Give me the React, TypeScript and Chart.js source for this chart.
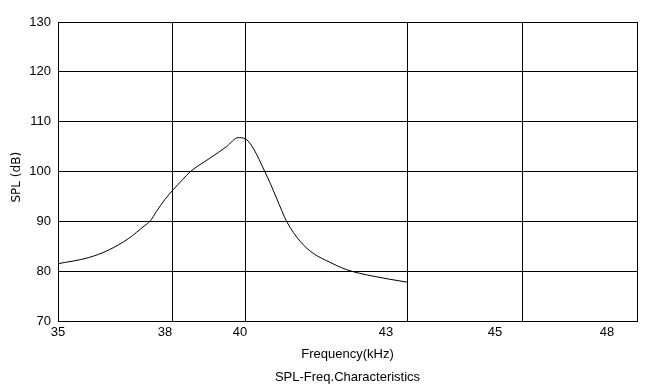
import React, { useEffect, useRef } from 'react';
import { Chart, registerables, LinearScale } from 'chart.js';

Chart.register(...registerables);

// ---- data ----
const FREQ_KHZ = [35.0, 35.79, 36.31, 36.83, 37.27, 37.4, 37.57, 37.79, 38.0, 38.27, 38.47, 39.03, 39.49, 39.81, 40.0, 40.15, 40.37, 40.46, 40.59, 40.77, 41.02, 41.26, 41.57, 41.88, 42.37, 43.0];
const SPL_DB = [81.5, 82.7, 84.2, 86.5, 89.2, 90.0, 92.0, 94.4, 96.3, 98.4, 99.9, 102.7, 105.0, 106.8, 106.6, 104.7, 99.9, 97.8, 94.5, 90.0, 86.0, 83.6, 81.8, 80.3, 79.0, 77.8];
const X_TICKS = [35, 38, 40, 43, 45, 48];
const X_TICK_LABELS = ['35', '38', '40', '43', '45', '48'];
const Y_MIN = 70;
const Y_MAX = 130;
const Y_STEP = 10;

// ---- scale layout (non-uniform axis of the original drawing) ----
const GRID_FRACTIONS = [0, 0.1986, 0.323, 0.6028, 0.8031, 1];
const LABEL_FRACTIONS = [0, 0.1848, 0.3143, 0.5665, 0.7547, 0.9482];

function interp(v: number, xs: number[], ys: number[]) {
  if (v <= xs[0]) return ys[0] + (v - xs[0]) * (ys[1] - ys[0]) / (xs[1] - xs[0]);
  for (let i = 1; i < xs.length; i++) {
    if (v <= xs[i]) {
      const t = (v - xs[i - 1]) / (xs[i] - xs[i - 1]);
      return ys[i - 1] + t * (ys[i] - ys[i - 1]);
    }
  }
  const n = xs.length - 1;
  return ys[n] + (v - xs[n]) * (ys[n] - ys[n - 1]) / (xs[n] - xs[n - 1]);
}

function makePiecewise(id: string, values: number[], fractions: number[]) {
  class Piecewise extends (LinearScale as any) {
    static id = id;
    static defaults = (LinearScale as any).defaults;
    getPixelForValue(value: number) {
      if (value === null || value === undefined || isNaN(value)) return NaN;
      return (this as any).getPixelForDecimal(interp(value, values, fractions));
    }
    getValueForPixel(pixel: number) {
      const d = (this as any).getDecimalForPixel(pixel);
      return interp(d, fractions, values);
    }
  }
  return Piecewise;
}

const GridScale = makePiecewise('pwgrid', X_TICKS, GRID_FRACTIONS);
const LabelScale = makePiecewise('pwlabel', X_TICKS, LABEL_FRACTIONS);
Chart.register(GridScale as any, LabelScale as any);

const TICK_FONT = { family: '"Liberation Sans Narrow", "Arial Narrow", "Liberation Sans", Arial, sans-serif', size: 13 };

export default function App() {
  const ref = useRef<HTMLCanvasElement | null>(null);

  useEffect(() => {
    if (!ref.current) return;
    const chart = new Chart(ref.current, {
      type: 'line',
      data: {
        datasets: [
          {
            data: FREQ_KHZ.map((f, i) => ({ x: f, y: SPL_DB[i] })),
            borderColor: '#000',
            borderWidth: 1,
            pointRadius: 0,
            cubicInterpolationMode: 'monotone',
            fill: false,
            xAxisID: 'x',
            yAxisID: 'y',
          },
        ],
      },
      options: {
        animation: false,
        responsive: false,
        devicePixelRatio: 1,
        layout: { padding: { left: 0, right: 19, top: 22, bottom: 0 } },
        plugins: {
          legend: { display: false },
          tooltip: { enabled: false },
          title: {
            display: true,
            position: 'bottom',
            fullSize: false,
            text: 'SPL-Freq.Characteristics',
            color: '#000',
            font: { ...TICK_FONT, weight: 'normal' },
            padding: { top: 6, bottom: 0 },
          },
        },
        scales: {
          x: {
            type: 'pwgrid' as any,
            position: 'bottom',
            weight: 0,
            min: 35,
            max: 48,
            afterBuildTicks: (s: any) => { s.ticks = X_TICKS.map((v) => ({ value: v })); },
            afterFit: (s: any) => { s.height = 0; },
            ticks: { display: false },
            grid: { color: '#000', lineWidth: 1, drawTicks: false },
            border: { display: true, color: '#000', width: 1 },
          },
          x2: {
            type: 'pwlabel' as any,
            position: 'bottom',
            weight: 1,
            min: 35,
            max: 48,
            afterBuildTicks: (s: any) => { s.ticks = X_TICKS.map((v) => ({ value: v })); },
            afterFit: (s: any) => { s.height = 42.4; },
            ticks: {
              autoSkip: false,
              maxRotation: 0,
              padding: 4,
              color: '#000',
              font: TICK_FONT,
              callback: (_v: any, i: number) => X_TICK_LABELS[i],
            },
            grid: { display: false, drawTicks: false },
            border: { display: false },
            title: {
              display: true,
              text: 'Frequency(kHz)',
              color: '#000',
              font: TICK_FONT,
              padding: { top: 0, bottom: 1 },
            },
          },
          y: {
            type: 'linear',
            position: 'left',
            min: Y_MIN,
            max: Y_MAX,
            afterFit: (s: any) => { s.width = 58; },
            ticks: { stepSize: Y_STEP, padding: 7, color: '#000', font: TICK_FONT },
            grid: { color: '#000', lineWidth: 1, drawTicks: false },
            border: { display: true, color: '#000', width: 1 },
            title: {
              display: true,
              text: 'SPL (dB)   ',
              color: '#000',
              font: { family: '"DejaVu Sans", Verdana, sans-serif', size: 12 },
              padding: { top: 10, bottom: 0 },
            },
          },
        },
      } as any,
    });
    return () => chart.destroy();
  }, []);

  return (
    <canvas
      ref={ref}
      width={656}
      height={385}
      style={{ position: 'absolute', left: 0, top: 0, width: 656, height: 385, background: '#fff' }}
    />
  );
}
